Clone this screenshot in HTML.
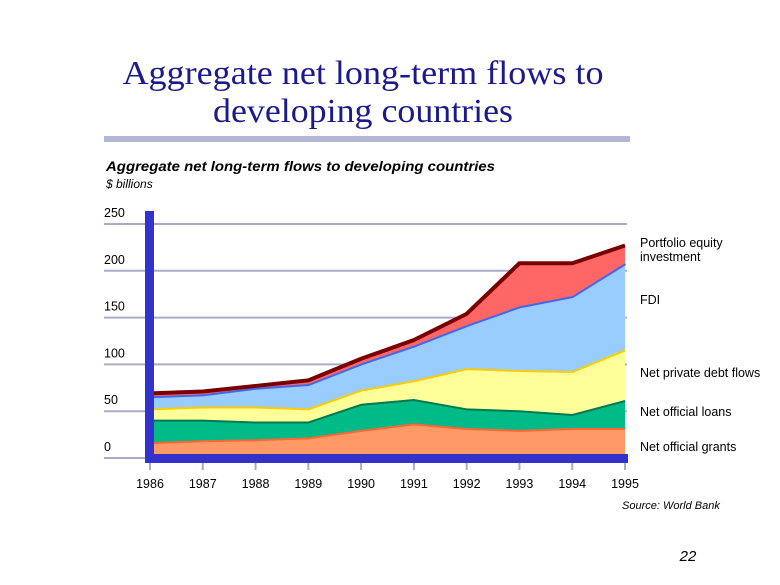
<!DOCTYPE html>
<html><head><meta charset="utf-8"><style>
html,body{margin:0;padding:0;background:#fff;}
svg{display:block;font-family:"Liberation Sans",Arial,sans-serif;}
</style></head><body>
<svg id="chart" width="780" height="585" viewBox="0 0 780 585">
<text x="363" y="84" text-anchor="middle" font-family="Liberation Serif,serif" font-size="34" textLength="481" lengthAdjust="spacingAndGlyphs" fill="#1a1a8c">Aggregate net long-term flows to</text>
<text x="363" y="122" text-anchor="middle" font-family="Liberation Serif,serif" font-size="34" textLength="300" lengthAdjust="spacingAndGlyphs" fill="#1a1a8c">developing countries</text>
<rect x="104" y="136" width="526" height="6" fill="#b3b7d6"/>
<text x="106" y="171" font-size="14" font-style="italic" font-weight="bold" textLength="389" lengthAdjust="spacingAndGlyphs" fill="#000">Aggregate net long-term flows to developing countries</text>
<text x="106" y="188" font-size="12" font-style="italic" fill="#000">$ billions</text>
<g id="grid"></g>
<g id="areas"></g>
<rect x="145" y="211" width="9" height="252" fill="#3333cc"/>
<rect x="145" y="454" width="483" height="9" fill="#3333cc"/>
<g id="xt"></g>
<text x="640" y="247" font-size="12.5" fill="#000">Portfolio equity</text>
<text x="640" y="261" font-size="12.5" fill="#000">investment</text>
<text x="640" y="304" font-size="12.5" fill="#000">FDI</text>
<text x="640" y="377" font-size="12.5" fill="#000">Net private debt flows</text>
<text x="640" y="416" font-size="12.5" fill="#000">Net official loans</text>
<text x="640" y="451" font-size="12.5" fill="#000">Net official grants</text>
<text x="622" y="509" font-size="11" font-style="italic" fill="#000">Source:  World Bank</text>
<text x="688" y="561" font-size="15" font-style="italic" fill="#000" text-anchor="middle">22</text>
</svg>
<script>
const years = [1986,1987,1988,1989,1990,1991,1992,1993,1994,1995];
const grants = [17,19,20,22,30,37,32,30,32,32];
const loans = [24,22,19,17,28,26,21,21,15,30];
const privateDebt = [12,14,16,14,15,20,43,43,46,54];
const fdi = [13,13,20,26,28,37,46,68,80,92];
const portfolio = [3,3,2,4,5,6,12,46,35,19];
const yTicks = [0,50,100,150,200,250];

const NS = "http://www.w3.org/2000/svg";
const x = i => 150 + i * (625 - 150) / (years.length - 1);
const y = v => 458 - v * 0.936;
function mk(tag, attrs, parent){const e=document.createElementNS(NS,tag);for(const k in attrs)e.setAttribute(k,attrs[k]);parent.appendChild(e);return e;}

const grid = document.getElementById('grid');
yTicks.forEach(t => {
  const l = mk('line',{x1:104,x2:627,y1:y(t),y2:y(t),stroke:'#a9accb','stroke-width':2},grid);
  
  
  const tx = mk('text',{x:104,y:y(t)-7,'font-size':12.5,fill:'#000'},grid);
  tx.textContent = t;
  
  
});

const xt = document.getElementById('xt');
years.forEach((yr,i) => {
  const l = mk('line',{x1:x(i),x2:x(i),y1:463,y2:470,stroke:'#a9accb','stroke-width':2},xt);
  
  
  const t = mk('text',{x:x(i),y:488,'font-size':12.5,'text-anchor':'middle',fill:'#000'},xt);
  t.textContent = yr;
  
  
});

const layers = [
  {d:grants,fill:'#ff9966',line:'#ff6633',name:'area-official-grants'},
  {d:loans,fill:'#00bb88',line:'#007a50',name:'area-official-loans'},
  {d:privateDebt,fill:'#ffff99',line:'#ffcc00',name:'area-private-debt'},
  {d:fdi,fill:'#99ccff',line:'#4466ee',name:'area-fdi'},
  {d:portfolio,fill:'#ff6666',line:'#7a0000',name:'area-portfolio-equity'}
];
const areas = document.getElementById('areas');
let base = years.map(()=>0);
layers.forEach(L => {
  const top = base.map((b,i)=>b+L.d[i]);
  let p = top.map((v,i)=>(i?'L':'M')+x(i)+','+y(v)).join(' ');
  for(let i=years.length-1;i>=0;i--) p += ' L'+x(i)+','+y(base[i]);
  const a = mk('path',{d:p+' Z',fill:L.fill},areas);
  
  
  const ln = mk('polyline',{points:top.map((v,i)=>x(i)+','+y(v)).join(' '),fill:'none',stroke:L.line,'stroke-width':4},areas);
  
  
  base = top;
});
</script>
</body></html>
